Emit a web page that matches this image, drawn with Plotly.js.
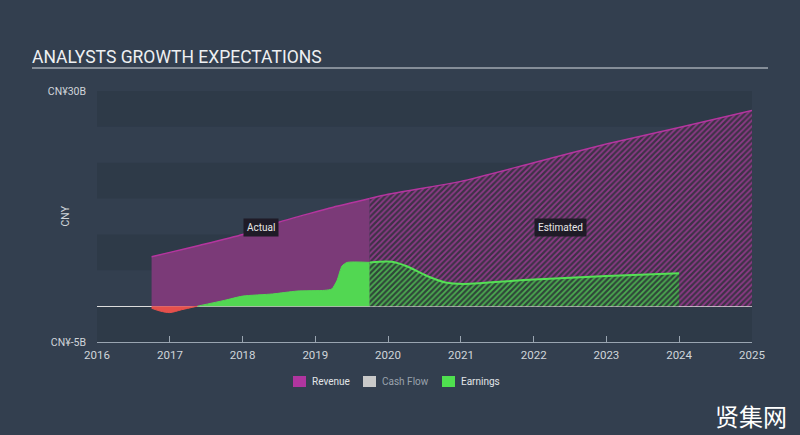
<!DOCTYPE html>
<html>
<head>
<meta charset="utf-8">
<script src="https://cdn.plot.ly/plotly-3.0.1.min.js"></script>
<style>
  html, body { margin: 0; padding: 0; background: #333f4f; }
  #plot { width: 800px; height: 435px; }
</style>
</head>
<body>
<div id="plot"></div>
<script>
// Revenue (CNY billions), actual and analyst estimates
let revActualDates = ['2016-10-01', '2017-01-01', '2017-06-01', '2018-01-01', '2018-07-01', '2018-12-01', '2019-04-01', '2019-10-01'];
let revActual = [6.9, 7.5, 8.5, 10.0, 11.7, 12.9, 13.8, 15.0];
let revEstDates = ['2019-10-01', '2020-01-01', '2021-01-01', '2022-01-01', '2023-01-01', '2024-01-01', '2025-01-01'];
let revEst = [15.0, 15.6, 17.4, 20.0, 22.6, 24.9, 27.3];

// Earnings (CNY billions): loss period, actual profits, estimates
let earnLossDates = ['2016-10-01', '2016-11-15', '2017-01-01', '2017-03-01', '2017-05-20'];
let earnLoss = [-0.3, -0.7, -0.9, -0.5, 0];
let earnActualDates = ['2017-05-20', '2017-10-01', '2018-01-01', '2018-06-01', '2018-10-01', '2019-02-15', '2019-03-25', '2019-04-20', '2019-05-15', '2019-06-10', '2019-10-01'];
let earnActual = [0, 0.8, 1.4, 1.7, 2.1, 2.2, 2.4, 3.6, 5.6, 6.1, 6.1];
let earnEstDates = ['2019-10-01', '2020-01-20', '2020-04-01', '2020-07-15', '2020-10-15', '2021-01-15', '2022-01-01', '2023-01-01', '2024-01-01'];
let earnEst = [6.1, 6.2, 5.6, 4.2, 3.3, 3.1, 3.7, 4.2, 4.6];

// axis ticks
let yTickVals = [30, -5];
let yTickText = ['CN¥30B', 'CN¥-5B'];
let bandEdges = [[25, 30], [15, 20], [5, 10], [-5, 0]];

// legend entries
let legendNames = ['Revenue', 'Cash Flow', 'Earnings'];
let legendColors = ['#b0359f', '#c9c9c9', '#4fe04f'];
let legendTextColors = ['#e2e5e8', '#9aa3ad', '#e2e5e8'];

let purple = '#7b3a78';
let magenta = '#b5359f';
let green = '#52d752';

// pixel -> paper helpers (plot area is 97..752 x 91..342)
const px = v => (v - 97) / 655;
const py = v => (342 - v) / 251;

let revActualTrace = {
    x: revActualDates, y: revActual, type: 'scatter', mode: 'lines',
    fill: 'tozeroy', fillcolor: purple,
    line: {color: magenta, width: 1.5, shape: 'spline', smoothing: 0.6},
    showlegend: false, hoverinfo: 'skip'
};
let revEstTrace = {
    x: revEstDates, y: revEst, type: 'scatter', mode: 'lines',
    fill: 'tozeroy', fillcolor: '#3d3246',
    fillpattern: {shape: '/', fgcolor: '#8e3a88', bgcolor: '#3d3246', size: 4, solidity: 0.45},
    line: {color: magenta, width: 1.5, shape: 'spline', smoothing: 0.6},
    showlegend: false, hoverinfo: 'skip'
};
let earnLossTrace = {
    x: earnLossDates, y: earnLoss, type: 'scatter', mode: 'lines',
    fill: 'tozeroy', fillcolor: '#e5504c',
    line: {color: '#e5504c', width: 1, shape: 'spline', smoothing: 0.8},
    showlegend: false, hoverinfo: 'skip'
};
let earnActualTrace = {
    x: earnActualDates, y: earnActual, type: 'scatter', mode: 'lines',
    fill: 'tozeroy', fillcolor: green,
    line: {color: green, width: 1, shape: 'spline', smoothing: 0.6},
    showlegend: false, hoverinfo: 'skip'
};
let earnEstTrace = {
    x: earnEstDates, y: earnEst, type: 'scatter', mode: 'lines',
    fill: 'tozeroy', fillcolor: '#2f4539',
    fillpattern: {shape: '/', fgcolor: '#4cae50', bgcolor: '#2f4539', size: 4, solidity: 0.45},
    line: {color: '#55e055', width: 2, shape: 'spline', smoothing: 0.8},
    showlegend: false, hoverinfo: 'skip'
};

let data = [revActualTrace, revEstTrace, earnLossTrace, earnActualTrace, earnEstTrace];

let shapes = bandEdges.map(b => ({
    type: 'rect', xref: 'paper', yref: 'y', x0: 0, x1: 1, y0: b[0], y1: b[1],
    fillcolor: '#2e3a48', line: {width: 0}, layer: 'below'
}));
// underline of the heading
shapes.push({
    type: 'line', xref: 'paper', yref: 'paper', x0: px(32), x1: px(768), y0: py(68), y1: py(68),
    line: {color: '#d8dde2', width: 1}
});

let annotations = [
    {text: 'CNY', xref: 'paper', yref: 'paper', x: px(65), y: 0.5, textangle: -90,
     xanchor: 'center', yanchor: 'middle',
     showarrow: false, font: {size: 10.5, color: '#d0d5da'}},
    {text: 'Actual', x: '2018-04-01', y: 11, xref: 'x', yref: 'y', showarrow: false,
     bgcolor: '#1f1b27', borderpad: 3, font: {size: 10, color: '#e8e8e8'}},
    {text: 'Estimated', x: '2022-05-15', y: 11, xref: 'x', yref: 'y', showarrow: false,
     bgcolor: '#1f1b27', borderpad: 3, font: {size: 10, color: '#e8e8e8'}},
    {text: '贤集网', xref: 'paper', yref: 'paper', x: px(751), y: py(415),
     xanchor: 'center', yanchor: 'middle', showarrow: false, borderpad: 0,
     font: {family: 'Noto Sans CJK SC', size: 24, color: '#ffffff'}}
];

// hand-placed legend (swatch + label)
let legendX = [293, 363, 442];
for (let i = 0; i < legendNames.length; i++) {
    shapes.push({
        type: 'rect', xref: 'paper', yref: 'paper',
        x0: px(legendX[i]), x1: px(legendX[i] + 13), y0: py(387), y1: py(376),
        fillcolor: legendColors[i], line: {width: 0}
    });
    annotations.push({
        text: legendNames[i], xref: 'paper', yref: 'paper',
        x: px(legendX[i] + 17), y: py(381.5), xanchor: 'left', yanchor: 'middle',
        showarrow: false, font: {size: 10, color: legendTextColors[i]}
    });
}

let layout = {
    width: 800, height: 435,
    margin: {l: 97, r: 48, t: 91, b: 93},
    paper_bgcolor: '#333f4f',
    plot_bgcolor: '#333f4f',
    font: {family: 'Roboto, sans-serif', color: '#d0d5da', size: 11},
    title: {
        text: 'ANALYSTS GROWTH EXPECTATIONS',
        x: 0.04, xanchor: 'left', xref: 'container',
        y: 0.869, yanchor: 'middle', yref: 'container',
        font: {family: 'Roboto, sans-serif', size: 17.5, color: '#eef0f2'}
    },
    xaxis: {
        type: 'date',
        range: ['2016-01-01', '2025-01-01'],
        dtick: 'M12', tickformat: '%Y',
        showgrid: false, zeroline: false,
        showline: true, linecolor: '#9aa5b1', linewidth: 1,
        ticks: 'inside', ticklen: 6, tickcolor: '#9aa5b1',
        ticklabelstandoff: 2,
        tickfont: {size: 11.5, color: '#d0d5da'}
    },
    yaxis: {
        range: [-5, 30],
        tickvals: yTickVals, ticktext: yTickText,
        showgrid: false, showline: false,
        zeroline: true, zerolinecolor: '#dcdcdc', zerolinewidth: 1,
        ticks: '', ticklabelstandoff: 10,
        tickfont: {size: 10.5, color: '#d0d5da'}
    },
    shapes: shapes,
    annotations: annotations,
    showlegend: false
};

Plotly.newPlot('plot', data, layout, {displayModeBar: false, staticPlot: true});
</script>
</body>
</html>
